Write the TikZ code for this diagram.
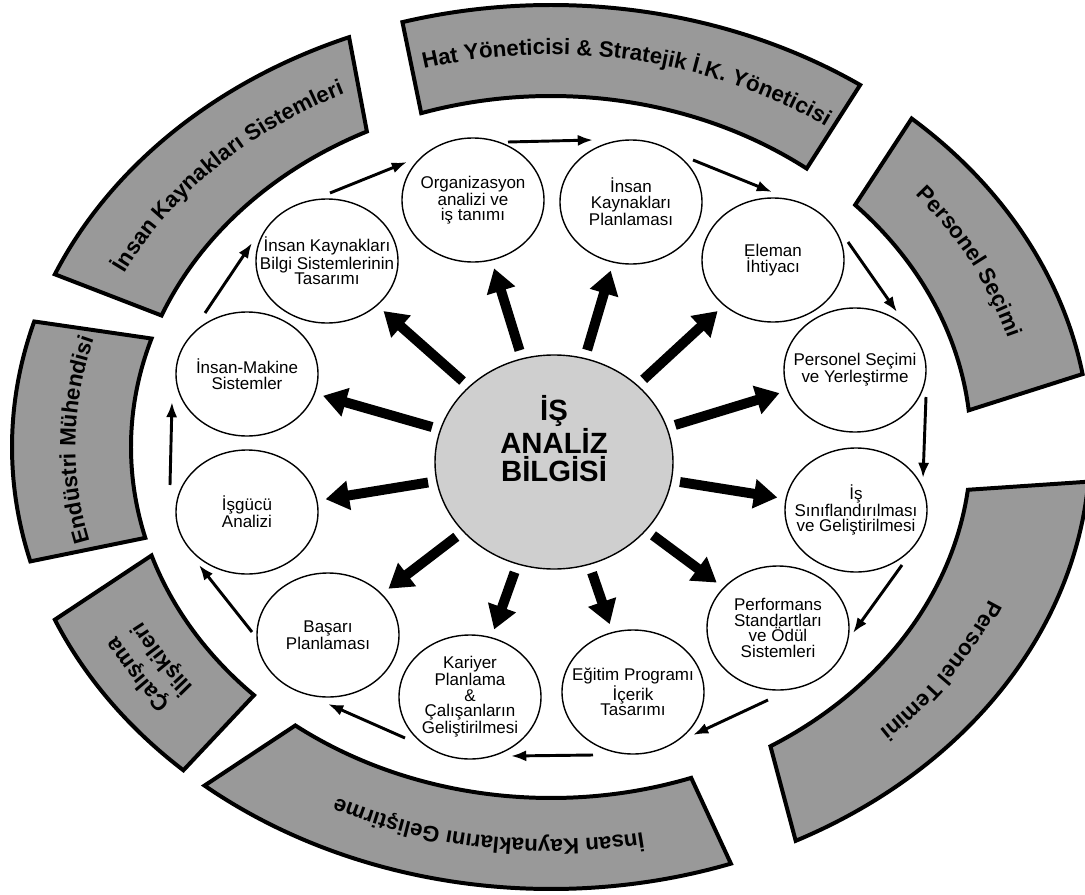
\documentclass[tikz,border=0pt]{standalone}
\usepackage{fontspec}
\setmainfont{Liberation Sans}
\usetikzlibrary{arrows.meta, calc, shapes.geometric, decorations.text}

\newcommand\stagefont{\fontsize{14.5}{13.3}\selectfont}
\newcommand\bandfont{\fontsize{19}{22}\selectfont\bfseries}
\newcommand\corefont{\fontsize{25}{24}\selectfont\bfseries}

\begin{document}
\begin{tikzpicture}[x=0.03cm, y=-0.03cm,
  stage/.style={ellipse, draw, line width=1.2pt, fill=white,
    minimum width=4.26cm, minimum height=3.72cm, inner sep=0pt},
  core/.style={ellipse, draw, line width=1.2pt, fill=black!19,
    minimum width=7.14cm, minimum height=6.42cm, inner sep=0pt},
  band/.style={draw, line width=3.4pt, fill=black!40},
  bandtext/.style={decorate, decoration={text along path, text align=center, text={|\bandfont|#1}}},
  flow/.style={line width=2.5pt, -{Latex[length=13pt,width=9.5pt]}},
  spoke/.style={line width=8.5pt, -{Triangle[length=20pt,width=24pt]},
    shorten <=7pt, shorten >=7pt},
  every label/.style={align=center, font=\stagefont, inner sep=0pt},
]

\useasboundingbox (0,0) rectangle (1085,895);

% outer bands (y up inside)
\begin{scope}[shift={(551,447)}, y=0.03cm]
\draw[band] (106:539 and 442) arc[start angle=106, end angle=55, x radius=539, y radius=442]
  -- (52.5:420 and 351) arc[start angle=52.5, end angle=108, x radius=420, y radius=351] -- cycle;
\draw[band] (48:539 and 442) arc[start angle=48, end angle=9.5, x radius=539, y radius=442]
  -- (6:420 and 351) arc[start angle=6, end angle=43.6, x radius=420, y radius=351] -- cycle;
\draw[band] (-4.5:539 and 442) arc[start angle=-4.5, end angle=-63, x radius=539, y radius=442]
  -- (-58.5:420 and 351) arc[start angle=-58.5, end angle=-7, x radius=420, y radius=351] -- cycle;
\draw[band] (-70.5:539 and 442) arc[start angle=-70.5, end angle=-130, x radius=539, y radius=442]
  -- (-127.5:420 and 351) arc[start angle=-127.5, end angle=-70.5, x radius=420, y radius=351] -- cycle;
\draw[band] (227:539 and 442) arc[start angle=227, end angle=203, x radius=539, y radius=442]
  -- (198:420 and 351) arc[start angle=198, end angle=225, x radius=420, y radius=351] -- cycle;
\draw[band] (195:539 and 442) arc[start angle=195, end angle=163.5, x radius=539, y radius=442]
  -- (162:420 and 351) arc[start angle=162, end angle=195, x radius=420, y radius=351] -- cycle;
\draw[band] (157:539 and 442) arc[start angle=157, end angle=112, x radius=539, y radius=442]
  -- (116:420 and 351) arc[start angle=116, end angle=158, x radius=420, y radius=351] -- cycle;

% band titles
\path[bandtext={Hat Yöneticisi {\&} Stratejik İ.K. Yöneticisi}]
  (110:475.5 and 392.5) arc[start angle=110, end angle=50, x radius=475.5, y radius=392.5];
\path[bandtext={Personel Seçimi}]
  (50:475.5 and 392.5) arc[start angle=50, end angle=5, x radius=475.5, y radius=392.5];
\path[bandtext={Personel Temini}]
  (-5:475.5 and 392.5) arc[start angle=-5, end angle=-62, x radius=475.5, y radius=392.5];
\path[bandtext={İnsan Kaynaklarını Geliştirme}]
  (-68:475.5 and 392.5) arc[start angle=-68, end angle=-128, x radius=475.5, y radius=392.5];
\path[bandtext={Çalışma}]
  (229:490 and 407) arc[start angle=229, end angle=197, x radius=490, y radius=407];
\path[bandtext={İlişkileri}]
  (229:461 and 378) arc[start angle=229, end angle=197, x radius=461, y radius=378];
\path[bandtext={Endüstri Mühendisi}]
  (197:475.5 and 392.5) arc[start angle=197, end angle=161, x radius=475.5, y radius=392.5];
\path[bandtext={İnsan Kaynakları Sistemleri}]
  (158:475.5 and 392.5) arc[start angle=158, end angle=112, x radius=475.5, y radius=392.5];
\end{scope}

% centre and stages
\node[core, label={[font=\corefont, yshift=20pt]center:İŞ\\ANALİZ\\BİLGİSİ}] (bilgi) at (554,462) {};

\node[stage, label=center:{Organizasyon\\analizi ve\\iş tanımı}] (org) at (473,200) {};
\node[stage, label=center:{İnsan\\Kaynakları\\Planlaması}] (ikp) at (631,202) {};
\node[stage, label=center:{Eleman\\İhtiyacı}] (eleman) at (773,260) {};
\node[stage, label=center:{Personel Seçimi\\ve Yerleştirme}] (psec) at (855,370) {};
\node[stage, label=center:{İş\\Sınıflandırılması\\ve Geliştirilmesi}] (issin) at (856,510) {};
\node[stage, label=center:{Performans\\Standartları\\ve Ödül\\Sistemleri}] (perf) at (778,628) {};
\node[stage, label=center:{Eğitim Programı\\İçerik\\Tasarımı}] (egitim) at (633,692) {};
\node[stage, label=center:{Kariyer\\Planlama\\\&\\Çalışanların\\Geliştirilmesi}] (kariyer) at (470,697) {};
\node[stage, label=center:{Başarı\\Planlaması}] (basari) at (328,635) {};
\node[stage, label=center:{İşgücü\\Analizi}] (isgucu) at (247,512) {};
\node[stage, label=center:{İnsan-Makine\\Sistemler}] (imak) at (247,374) {};
\node[stage, label=center:{İnsan Kaynakları\\Bilgi Sistemlerinin\\Tasarımı}] (ikbs) at (327,261) {};

% thick arrows out of the centre
\foreach \n in {org, ikp, eleman, psec, issin, perf, egitim, kariyer, basari, isgucu, imak, ikbs}
  \draw[spoke] (bilgi) -- (\n);

% thin arrows round the ring
\draw[flow] ($(ikbs)+(3,-68)$) -- ($(org)+(-66,-38)$);
\draw[flow] ($(org)+(35,-58)$) -- ($(ikp)+(-38,-62)$);
\draw[flow] ($(ikp)+(62,-42)$) -- ($(eleman)+(-1,-68)$);
\draw[flow] ($(eleman)+(75,-18)$) -- ($(psec)+(42,-58)$);
\draw[flow] ($(psec)+(71,27)$) -- ($(issin)+(67,-32)$);
\draw[flow] ($(issin)+(46,55)$) -- ($(perf)+(75,5)$);
\draw[flow] ($(perf)+(-10,72)$) -- ($(egitim)+(60,43)$);
\draw[flow] ($(egitim)+(-40,63)$) -- ($(kariyer)+(41,59)$);
\draw[flow] ($(kariyer)+(-65,41)$) -- ($(basari)+(0,69)$);
\draw[flow] ($(basari)+(-76,-3)$) -- ($(isgucu)+(-48,53)$);
\draw[flow] ($(isgucu)+(-77,-27)$) -- ($(imak)+(-75,28)$);
\draw[flow] ($(imak)+(-42,-61)$) -- ($(ikbs)+(-75,-18)$);

\end{tikzpicture}
\end{document}
